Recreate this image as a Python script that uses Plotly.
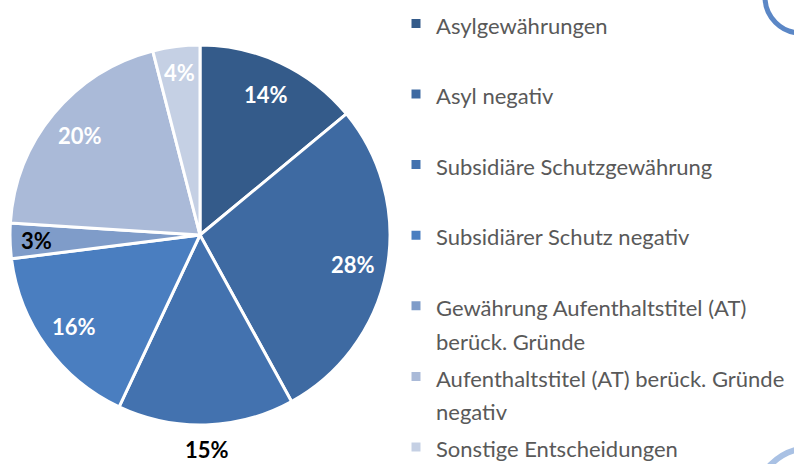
import math
import plotly.graph_objects as go

categories = [
    "Asylgewährungen",
    "Asyl negativ",
    "Subsidiäre Schutzgewährung",
    "Subsidiärer Schutz negativ",
    "Gewährung Aufenthaltstitel (AT)<br>berück. Gründe",
    "Aufenthaltstitel (AT) berück. Gründe<br>negativ",
    "Sonstige Entscheidungen",
]
shares = [14, 28, 15, 16, 3, 20, 4]
slice_colors = ["#345b8a", "#3e6aa2", "#4372af", "#4a7ec0", "#7f9cc9", "#aabad8", "#c5d0e4"]
label_colors = ["white", "white", "black", "white", "black", "white", "white"]
label_outside = [False, False, True, False, False, False, False]

W, H = 794, 464
LEGEND_TEXT_PX = 22
PIE_X = [10 / W, 390 / W]
PIE_Y = [1 - 425 / H, 1 - 45 / H]


def legend_label(s, pad=True):
    lines = s.split("<br>")
    while pad and len(lines) < 2:
        lines.append(" ")
    return "<br>".join(f'<span style="font-size:{LEGEND_TEXT_PX}px">{l}</span>' for l in lines)


labels = [legend_label(c, pad=(i < len(categories) - 1)) for i, c in enumerate(categories)]

fig = go.Figure(
    go.Pie(
        labels=labels,
        values=shares,
        sort=False,
        direction="clockwise",
        rotation=0,
        marker=dict(colors=slice_colors, line=dict(color="white", width=3)),
        textinfo="none",
        hoverinfo="none",
        domain=dict(x=PIE_X, y=PIE_Y),
    )
)

# percentage labels placed along each slice's mid-angle (derived from the values)
cx_px = (PIE_X[0] + PIE_X[1]) / 2 * W
cy_px = (1 - (PIE_Y[0] + PIE_Y[1]) / 2) * H
r_px = min((PIE_X[1] - PIE_X[0]) * W, (PIE_Y[1] - PIE_Y[0]) * H) / 2
total = sum(shares)
cum = 0
for v, col, out in zip(shares, label_colors, label_outside):
    theta = 2 * math.pi * (cum + v / 2) / total
    cum += v
    rr = r_px * (1.13 if out else (0.86 if v < 5 else 0.82))
    px = cx_px + rr * math.sin(theta)
    py = cy_px - rr * math.cos(theta)
    fig.add_annotation(
        x=px / W, y=1 - py / H, xref="paper", yref="paper",
        xanchor="center", yanchor="middle",
        text=f"{v}%", showarrow=False,
        font=dict(family="Lato", size=22, color=col, weight="bold"),
    )


def ring(cx, cy, r, color, width):
    return dict(
        type="circle", xref="paper", yref="paper",
        x0=(cx - r) / W, x1=(cx + r) / W,
        y0=1 - (cy + r) / H, y1=1 - (cy - r) / H,
        line=dict(color=color, width=width), fillcolor="rgba(0,0,0,0)",
    )


fig.update_layout(
    width=W, height=H,
    margin=dict(l=0, r=0, t=0, b=0),
    paper_bgcolor="white",
    plot_bgcolor="white",
    font=dict(family="Lato", color="#595959"),
    showlegend=True,
    legend=dict(
        x=396 / W, xanchor="left", y=1, yanchor="top",
        font=dict(family="Lato", size=26, color="#595959"),
        valign="top",
        maxheight=600,
        bgcolor="rgba(0,0,0,0)",
        itemclick=False, itemdoubleclick=False,
    ),
    shapes=[
        ring(801, -3, 36, "#5b87c6", 5),
        ring(811, 505, 57, "#a9c1e4", 6),
    ],
)

fig.write_html(
    "out.html",
    config={"displayModeBar": False},
    post_script="document.body.style.margin='0';",
)
